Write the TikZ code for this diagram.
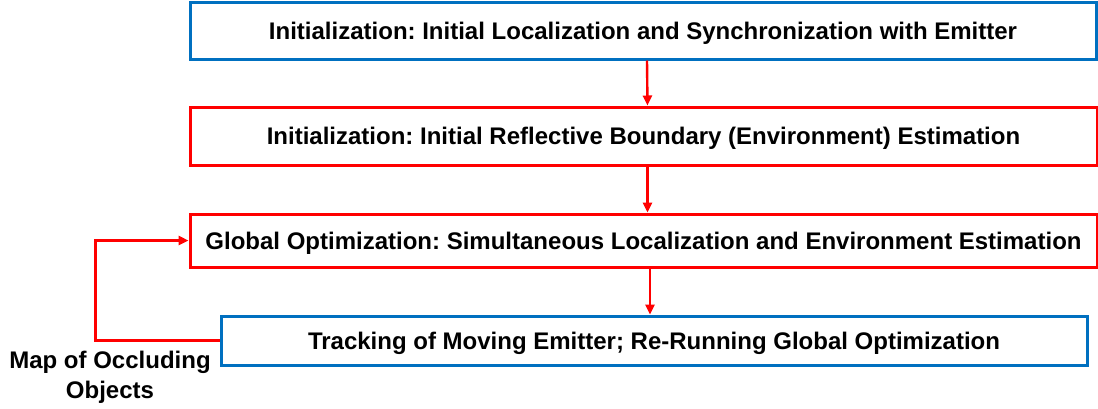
\documentclass[tikz,border=0pt]{standalone}
\usepackage{fontspec}
\setmainfont{Liberation Sans}
\usetikzlibrary{arrows.meta}
\definecolor{OfficeBlue}{RGB}{0, 112, 192}
\definecolor{PureRed}{RGB}{255, 0, 0}
\tikzset{
  stage/.style={line width=3pt, fill=white, inner sep=0pt, text depth=0pt,
    font=\fontsize{24}{28}\selectfont\bfseries},
  flow/.style={line width=2.4pt, PureRed, -{Triangle[length=10pt,width=9pt]}}
}
\begin{document}
\frenchspacing
\begin{tikzpicture}[x=1pt,y=-1pt]
\useasboundingbox (0,0) rectangle (1098,408);
%\draw[help lines] (0,0) grid[step=50] (1098,408);
\node[stage,draw=OfficeBlue,minimum width=906pt,minimum height=57pt] (init) at (643,30.5)
  {Initialization: Initial Localization and Synchronization with Emitter};
\node[stage,draw=PureRed,minimum width=907pt,minimum height=58pt] (bound) at (643.5,136)
  {Initialization: Initial Reflective Boundary (Environment) Estimation};
\node[stage,draw=PureRed,minimum width=907pt,minimum height=53pt] (glob) at (643.5,240.5)
  {Global Optimization: Simultaneous Localization and Environment Estimation};
\node[stage,draw=OfficeBlue,minimum width=866pt,minimum height=49pt] (track) at (654,340.5)
  {Tracking of Moving Emitter; Re-Running Global Optimization};
\node[font=\fontsize{24}{30}\selectfont\bfseries, align=center] (occl) at (110,377)
  {Map of Occluding\\Objects};
\draw[flow] ([xshift=4pt]init.south) -- ([xshift=4pt]bound.north);
\draw[flow] ([xshift=4pt]bound.south) -- ([xshift=4pt]glob.north);
\draw[flow] ([xshift=6.5pt]glob.south) -- ([xshift=6.5pt]glob.south |- track.north);
\draw[flow] (track.west) -- ++(-124,0) |- (glob.west);
\end{tikzpicture}
\end{document}
